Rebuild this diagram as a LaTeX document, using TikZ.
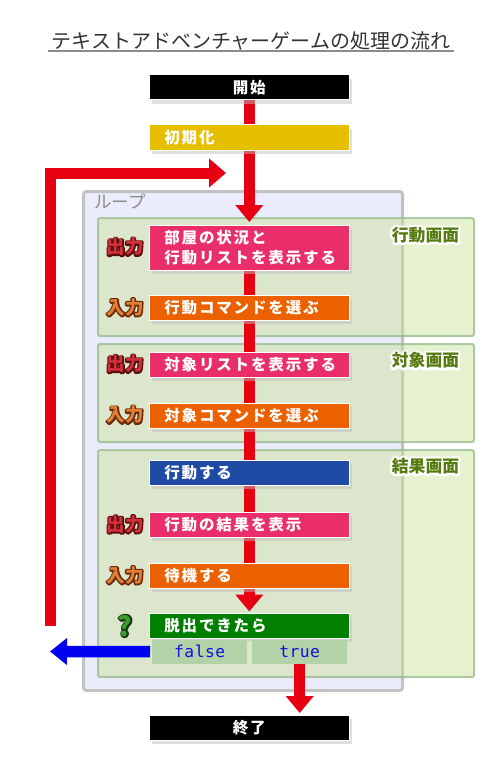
\documentclass[tikz,border=0pt]{standalone}
\usepackage{fontspec}
\setmainfont{Noto Sans CJK JP}
\newfontfamily\jp{Noto Sans CJK JP}
\newfontfamily\jpsp[LetterSpace=12]{Noto Sans CJK JP}
\newfontfamily\monof[LetterSpace=3]{DejaVu Sans Mono}
\usetikzlibrary{arrows.meta,shadows,calc}
\definecolor{pinkc}{HTML}{EA2E6A}
\definecolor{orangec}{HTML}{EB6100}
\definecolor{bluec}{HTML}{1F4BA5}
\definecolor{greenc}{HTML}{007F00}
\definecolor{goldc}{HTML}{E5BF00}
\definecolor{loopfill}{HTML}{EBECFB}
\definecolor{loopdraw}{HTML}{C2C2C2}
\definecolor{panelfill}{RGB}{200,224,150}
\definecolor{paneldraw}{RGB}{150,185,140}
\definecolor{arrowred}{HTML}{E60012}
\definecolor{arrowblue}{HTML}{0000F0}
\definecolor{tfbox}{HTML}{B3D2A8}
\definecolor{tftext}{HTML}{1010E0}
\definecolor{scrtext}{HTML}{557A0E}
\definecolor{titlec}{HTML}{333333}
\definecolor{outred}{HTML}{D3303C}
\definecolor{outredd}{HTML}{5A1010}
\definecolor{inor}{HTML}{E08038}
\definecolor{inord}{HTML}{6A2A08}
\definecolor{qg}{HTML}{3C9A2E}
\definecolor{qgd}{HTML}{163810}
\pgfdeclarelayer{loop}
\pgfdeclarelayer{panels}
\pgfdeclarelayer{lines}
\pgfsetlayers{loop,panels,lines,main}
% outlined label: name, position, text, fill colour, outline colour, stroke width, font
\newcommand{\olabel}[7]{%
  \node[inner sep=0pt, font=#7, text=#5] (#1-o) at (#2)
    {\special{pdf:literal direct 1 j 2 Tr #6 w}#3\special{pdf:literal direct 0 Tr 1 w 0 j}};
  \node[inner sep=0pt, font=#7, text=#4] (#1) at (#2) {#3};}
\newcommand{\iofont}{\jp\bfseries\fontsize{18.5}{20}\selectfont}
\newcommand{\scrfont}{\jp\bfseries\fontsize{16.8}{18}\selectfont}
\newcommand{\qfont}{\jp\bfseries\fontsize{27}{28}\selectfont}
\tikzset{
  stepbox/.style={draw=white, line width=0.6pt, minimum height=25pt,
    text width=170pt, inner xsep=15pt, inner ysep=0pt, align=left,
    text=white, font=\jpsp\bfseries\fontsize{15.5}{20}\selectfont, anchor=north west,
    drop shadow={shadow xshift=3pt, shadow yshift=-4pt, fill=black!25}},
  termbox/.style={stepbox, fill=black, align=center},
  panelbox/.style={draw=paneldraw, draw opacity=0.75, line width=2pt,
    fill=panelfill, fill opacity=0.45, rounded corners=2pt, anchor=north west,
    inner sep=0pt},
  tfnode/.style={fill=tfbox, anchor=north west, minimum width=95pt,
    minimum height=24pt, inner sep=0pt, text=tftext,
    font=\monof\fontsize{16.3}{17}\selectfont},
  redline/.style={draw=arrowred, line width=10.5pt},
  redhead/.style={-{Triangle[width=27pt,length=17pt]}},
}
\begin{document}
\begin{tikzpicture}[x=1pt,y=-1pt]
\useasboundingbox (0,0) rectangle (500,765);
% title
\node[inner sep=0pt, text=titlec, font=\jp\fontsize{20}{22}\selectfont] (title) at (251,41) {テキストアドベンチャーゲームの処理の流れ};
\draw[gray!90, line width=2pt] (48,51.5) -- (454,51.5);
% loop box
\begin{pgfonlayer}{loop}
\node[draw=loopdraw, fill=loopfill, line width=3pt, rounded corners=3pt,
  anchor=north west, minimum width=319pt, minimum height=499pt, inner sep=0pt] (loopbox) at (82,190) {};
\end{pgfonlayer}
\node[inner sep=0pt, text=black!45, font=\jp\fontsize{17.5}{20}\selectfont, anchor=west] (looplab) at (94,202) {ループ};
% panels
\begin{pgfonlayer}{panels}
\node[panelbox, minimum width=376pt, minimum height=118pt] (scr1) at (97,217) {};
\node[panelbox, minimum width=376pt, minimum height=98pt] (scr2) at (97,343) {};
\node[panelbox, minimum width=376pt, minimum height=227pt] (scr3) at (97,449) {};
\end{pgfonlayer}
\olabel{s1}{425.5,235}{行動画面}{scrtext}{white}{4.5}{\scrfont}
\olabel{s2}{425.5,360.5}{対象画面}{scrtext}{white}{4.5}{\scrfont}
\olabel{s3}{425.5,466}{結果画面}{scrtext}{white}{4.5}{\scrfont}
% steps
\node[termbox] (start) at (149,74.5) {開始};
\node[stepbox, fill=goldc] (init) at (149,124.5) {初期化};
\node[stepbox, fill=pinkc, minimum height=45pt] (room) at (149,224.5) {部屋の状況と\\行動リストを表示する};
\node[stepbox, fill=orangec] (selact) at (149,295) {行動コマンドを選ぶ};
\node[stepbox, fill=pinkc] (tlist) at (149,351.5) {対象リストを表示する};
\node[stepbox, fill=orangec] (seltgt) at (149,402.5) {対象コマンドを選ぶ};
\node[stepbox, fill=bluec] (act) at (149,459.5) {行動する};
\node[stepbox, fill=pinkc] (result) at (149,512) {行動の結果を表示};
\node[stepbox, fill=orangec] (wait) at (149,563) {待機する};
\node[stepbox, fill=greenc] (exit) at (149,613) {脱出できたら};
\node[tfnode] (false) at (152,639.5) {false};
\node[tfnode] (true) at (252,639.5) {true};
\node[termbox] (end) at (149,714.5) {終了};
% io labels
\olabel{o1}{125,247}{出力}{outred}{outredd}{3}{\iofont}
\olabel{i1}{125,307.5}{入力}{inor}{inord}{3}{\iofont}
\olabel{o2}{125,364}{出力}{outred}{outredd}{3}{\iofont}
\olabel{i2}{125,415}{入力}{inor}{inord}{3}{\iofont}
\olabel{o3}{125,524.5}{出力}{outred}{outredd}{3}{\iofont}
\olabel{i3}{125,575.5}{入力}{inor}{inord}{3}{\iofont}
\olabel{q}{125,626}{?}{qg}{qgd}{3}{\qfont}
% connectors
\coordinate (loopstart) at (50,626);
\coordinate (loopend) at (226,173);
\coordinate (bluetip) at (50,651.5);
\begin{pgfonlayer}{lines}
\draw[redline] (start.south) -- (init.north);
\draw[redline, redhead, shorten >=2.5pt] (init.south) -- (room.north);
\draw[redline] (room.south) -- (wait.north);
\draw[redline, redhead, shorten >=1.5pt] (wait.south) -- (exit.north);
\draw[redline, redhead, shorten >=1.5pt] (true.south) -- (true.south |- end.north);
\draw[redline, line width=11pt, line join=miter, -{Triangle[width=28pt,length=17pt]}] (loopstart) |- (loopend);
\draw[draw=arrowblue, line width=11.5pt, -{Triangle[width=26pt,length=17pt]}] ([xshift=-2pt]false.west) -- (bluetip);
\end{pgfonlayer}
\end{tikzpicture}
\end{document}
